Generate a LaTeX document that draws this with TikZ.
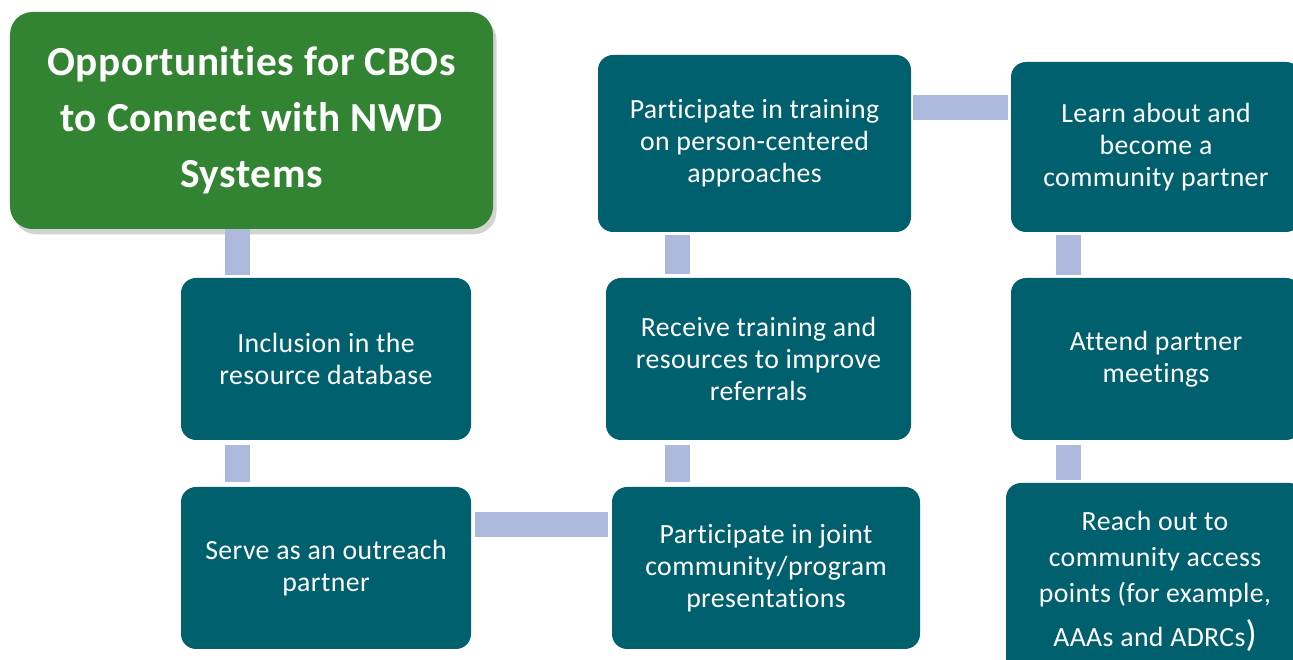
\documentclass[tikz,border=0pt]{standalone}
\usepackage{fontspec}
\setmainfont{Carlito}[Ligatures=NoCommon,LetterSpace=1.5]
\usepackage{tikz}
\usetikzlibrary{shadows}
\definecolor{cbogreen}{HTML}{328433}
\definecolor{cboteal}{HTML}{00606E}
\definecolor{cbolink}{HTML}{ADB9DC}

\begin{document}
\begin{tikzpicture}[-,auto,
  main node/.style={rectangle,rounded corners=0.3cm,fill=cboteal,text=white,align=center,inner sep=0pt,
    font=\fontsize{15.8}{18.2}\selectfont},
  title node/.style={main node,rounded corners=0.45cm,fill=cbogreen,font=\fontsize{23.5}{32}\selectfont\bfseries,
    drop shadow={shadow xshift=2pt,shadow yshift=-3pt,opacity=0.35}},
  link/.style={draw=cbolink,line width=0.5cm}]
  \useasboundingbox (0,0) rectangle (25.86,13.2);
  \clip (0,0) rectangle (25.86,13.2);

  \node[title node,minimum width=9.66cm,minimum height=4.34cm] (1) at (5.03,10.79)
    {Opportunities for CBOs\\to Connect with NWD\\Systems};
  \node[main node,minimum width=5.8cm,minimum height=3.24cm] (2) at (6.52,6.02)
    {Inclusion in the\\resource database};
  \node[main node,minimum width=5.8cm,minimum height=3.24cm] (3) at (6.52,1.84)
    {Serve as an outreach\\partner};
  \node[main node,minimum width=6.16cm,minimum height=3.24cm] (4) at (15.32,1.84)
    {Participate in joint\\community/program\\presentations};
  \node[main node,minimum width=6.1cm,minimum height=3.24cm] (5) at (15.17,6.02)
    {Receive training and\\resources to improve\\referrals};
  \node[main node,minimum width=6.26cm,minimum height=3.54cm] (6) at (15.09,10.33)
    {Participate in training\\on person-centered\\approaches};
  \node[main node,minimum width=5.8cm,minimum height=3.4cm] (7) at (23.12,10.26)
    {Learn about and\\become a\\community partner};
  \node[main node,minimum width=5.8cm,minimum height=3.24cm] (8) at (23.12,6.02)
    {Attend partner\\meetings};
  \node[main node,minimum width=5.96cm,minimum height=3.94cm] (9) at (23.1,1.57)
    {Reach out to\\[2.3pt]community access\\[2.3pt]points (for example,\\[6.8pt]AAAs and ADRCs{\fontsize{21}{18.2}\selectfont )}};

  \path[link]
    ([xshift=1.13cm]2.north west |- 1.south) edge ([xshift=1.13cm,yshift=0.06cm]2.north west)
    ([xshift=1.13cm,yshift=-0.1cm]2.south west) edge ([xshift=1.13cm,yshift=0.1cm]3.north west)
    ([xshift=0.08cm,yshift=-0.75cm]3.north east) edge ([xshift=-0.08cm,yshift=-0.75cm]4.north west)
    ([xshift=1.31cm,yshift=0.1cm]4.north west) edge ([xshift=1.31cm,yshift=-0.1cm]4.north west |- 5.south)
    ([xshift=1.31cm,yshift=0.08cm]4.north west |- 5.north) edge ([xshift=1.31cm,yshift=-0.06cm]4.north west |- 6.south)
    ([xshift=0.04cm,yshift=-0.92cm]7.north west -| 6.east) edge ([xshift=-0.06cm,yshift=-0.92cm]7.north west)
    ([xshift=1.15cm,yshift=0.06cm]8.north west) edge ([xshift=1.15cm,yshift=-0.06cm]8.north west |- 7.south)
    ([xshift=1.15cm,yshift=-0.1cm]8.south west) edge ([xshift=1.15cm,yshift=0.06cm]8.south west |- 9.north);
\end{tikzpicture}
\end{document}
